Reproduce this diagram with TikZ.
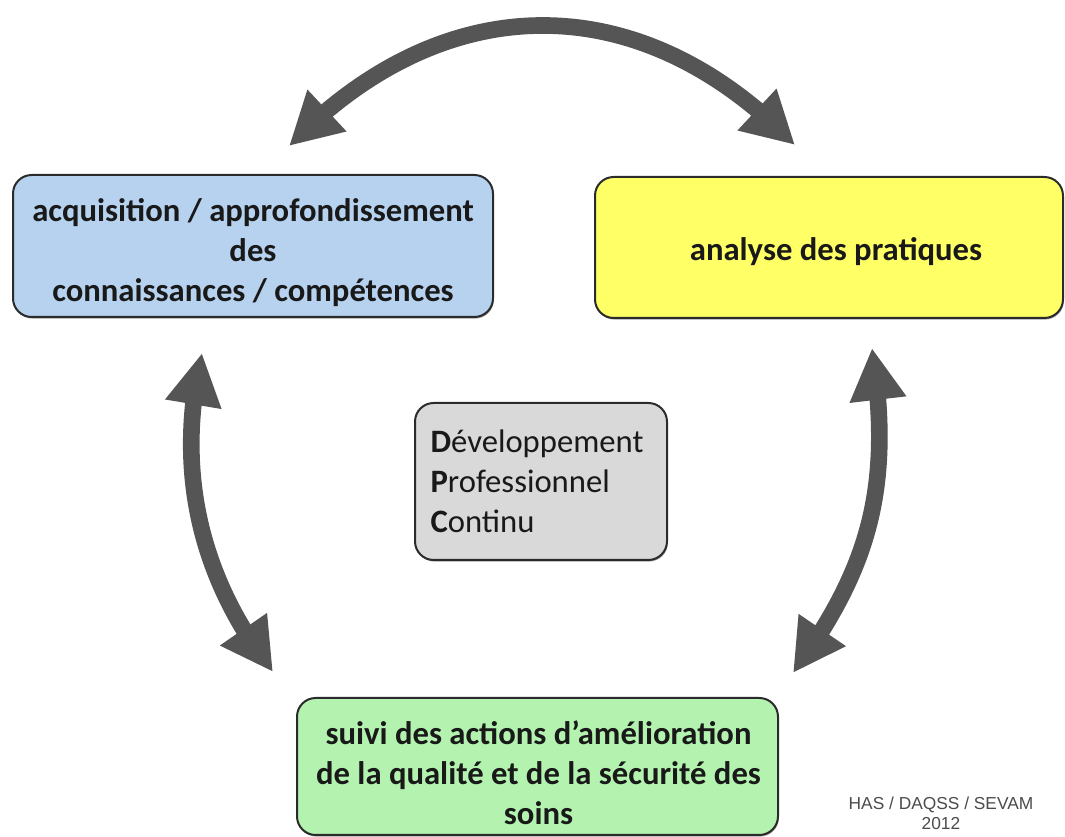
\documentclass[tikz,border=0pt]{standalone}
\usepackage{fontspec}
\setmainfont{Carlito}
\newfontfamily\footfont{Liberation Sans}
\usetikzlibrary{arrows.meta,bending,shadows}
\definecolor{boxblue}{HTML}{B6D2EF}
\definecolor{boxyellow}{HTML}{FFFF66}
\definecolor{boxgray}{HTML}{D9D9D9}
\definecolor{boxgreen}{HTML}{B3F3AF}
\definecolor{arrowgray}{HTML}{555555}
\definecolor{edgegray}{HTML}{2B2B2B}
\tikzset{
  cyclebox/.style={draw=edgegray, line width=1.5pt, rounded corners=14pt,
    inner sep=0pt,
    drop shadow={shadow xshift=0.6pt, shadow yshift=-1.2pt, fill=black!60, opacity=0.6}},
  boxtext/.style={text=black!90, align=center, inner sep=0pt,
    font=\bfseries\fontsize{24.5}{30}\selectfont},
  bigarrow/.style={draw=arrowgray, line width=12.5pt,
    {Triangle[length=39pt,width=40pt,flex]}-{Triangle[length=39pt,width=40pt,flex]}},
}
\begin{document}
\begin{tikzpicture}[x=0.75pt,y=-0.75pt]
\useasboundingbox[fill=white] (0,0) rectangle (1065,837);

\node[cyclebox, fill=boxblue, minimum width=360pt, minimum height=106.5pt] (acq) at (253,246) {};
\node[boxtext] (acqtxt) at (253,253)
  {acquisition / approfondissement\\des\\connaissances / compétences};

\node[cyclebox, fill=boxyellow, minimum width=351pt, minimum height=105.75pt] (ana) at (829,247.5) {};
\node[boxtext] (anatxt) at (836,251.5) {analyse des pratiques};

\node[cyclebox, fill=boxgray, minimum width=189pt, minimum height=117.75pt] (dpc) at (541,481.5) {};
\node[boxtext, align=left, font=\fontsize{24.5}{30}\selectfont] (dpctxt) at (537,481.5)
  {\textbf{D}éveloppement\\\textbf{P}rofessionnel\\\textbf{C}ontinu};

\node[cyclebox, fill=boxgreen, minimum width=360.75pt, minimum height=102.75pt] (suivi) at (537.5,766.5) {};
\node[boxtext] (suivitxt) at (538.5,772.5)
  {suivi des actions d’amélioration\\de la qualité et de la sécurité des\\soins};

\node[font=\footfont\fontsize{13}{15}\selectfont, text=black!70, align=center] (foot) at (941,813)
  {HAS / DAQSS / SEVAM\\2012};

\coordinate (tl) at (289,146);
\coordinate (tr) at (795,145);
\coordinate (lt) at (202,353);
\coordinate (lb) at (273,672);
\coordinate (rt) at (872,348);
\coordinate (rb) at (793,673);

\draw[bigarrow] (tl) .. controls (444,-14) and (640,-15) .. (tr);
\draw[bigarrow] (lt) .. controls (175,470) and (199,577) .. (lb);
\draw[bigarrow] (rt) .. controls (892,482) and (873,564) .. (rb);
\end{tikzpicture}
\end{document}
